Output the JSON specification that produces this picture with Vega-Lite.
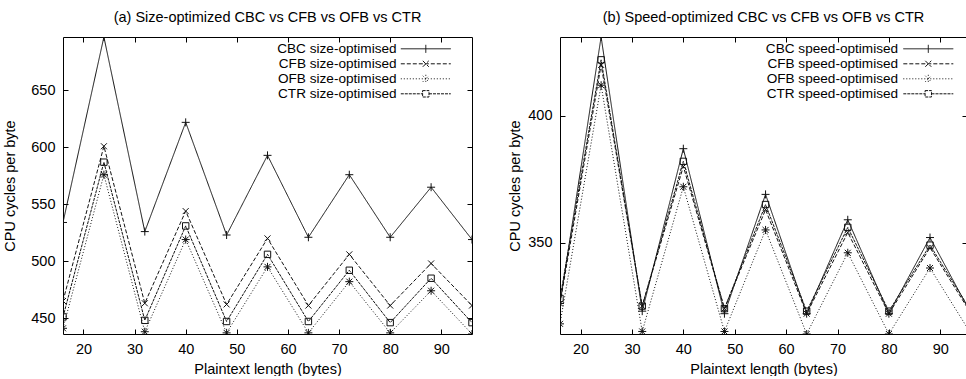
{
  "$schema": "https://vega.github.io/schema/vega-lite/v6.json",
  "padding": {"left": 2, "top": 10, "right": 0, "bottom": 0},
  "background": "white",
  "resolve": {"scale": {"strokeDash": "independent"}, "legend": {"strokeDash": "independent"}},
  "datasets": {
    "size": [
      {"len": 16, "series": "CBC size-optimised", "cycles": 534},
      {"len": 24, "series": "CBC size-optimised", "cycles": 697},
      {"len": 32, "series": "CBC size-optimised", "cycles": 526},
      {"len": 40, "series": "CBC size-optimised", "cycles": 622},
      {"len": 48, "series": "CBC size-optimised", "cycles": 523},
      {"len": 56, "series": "CBC size-optimised", "cycles": 593},
      {"len": 64, "series": "CBC size-optimised", "cycles": 521},
      {"len": 72, "series": "CBC size-optimised", "cycles": 576},
      {"len": 80, "series": "CBC size-optimised", "cycles": 521},
      {"len": 88, "series": "CBC size-optimised", "cycles": 565},
      {"len": 96, "series": "CBC size-optimised", "cycles": 519},
      {"len": 16, "series": "CFB size-optimised", "cycles": 465},
      {"len": 24, "series": "CFB size-optimised", "cycles": 601},
      {"len": 32, "series": "CFB size-optimised", "cycles": 463},
      {"len": 40, "series": "CFB size-optimised", "cycles": 544},
      {"len": 48, "series": "CFB size-optimised", "cycles": 462},
      {"len": 56, "series": "CFB size-optimised", "cycles": 520},
      {"len": 64, "series": "CFB size-optimised", "cycles": 461},
      {"len": 72, "series": "CFB size-optimised", "cycles": 506},
      {"len": 80, "series": "CFB size-optimised", "cycles": 461},
      {"len": 88, "series": "CFB size-optimised", "cycles": 498},
      {"len": 96, "series": "CFB size-optimised", "cycles": 461},
      {"len": 16, "series": "OFB size-optimised", "cycles": 441},
      {"len": 24, "series": "OFB size-optimised", "cycles": 576},
      {"len": 32, "series": "OFB size-optimised", "cycles": 438},
      {"len": 40, "series": "OFB size-optimised", "cycles": 519},
      {"len": 48, "series": "OFB size-optimised", "cycles": 437},
      {"len": 56, "series": "OFB size-optimised", "cycles": 495},
      {"len": 64, "series": "OFB size-optimised", "cycles": 437},
      {"len": 72, "series": "OFB size-optimised", "cycles": 482},
      {"len": 80, "series": "OFB size-optimised", "cycles": 437},
      {"len": 88, "series": "OFB size-optimised", "cycles": 474},
      {"len": 96, "series": "OFB size-optimised", "cycles": 436},
      {"len": 16, "series": "CTR size-optimised", "cycles": 451},
      {"len": 24, "series": "CTR size-optimised", "cycles": 587},
      {"len": 32, "series": "CTR size-optimised", "cycles": 448},
      {"len": 40, "series": "CTR size-optimised", "cycles": 531},
      {"len": 48, "series": "CTR size-optimised", "cycles": 447},
      {"len": 56, "series": "CTR size-optimised", "cycles": 506},
      {"len": 64, "series": "CTR size-optimised", "cycles": 447},
      {"len": 72, "series": "CTR size-optimised", "cycles": 492},
      {"len": 80, "series": "CTR size-optimised", "cycles": 446},
      {"len": 88, "series": "CTR size-optimised", "cycles": 485},
      {"len": 96, "series": "CTR size-optimised", "cycles": 446}
    ],
    "speed": [
      {"len": 16, "series": "CBC speed-optimised", "cycles": 326},
      {"len": 24, "series": "CBC speed-optimised", "cycles": 431},
      {"len": 32, "series": "CBC speed-optimised", "cycles": 323},
      {"len": 40, "series": "CBC speed-optimised", "cycles": 387},
      {"len": 48, "series": "CBC speed-optimised", "cycles": 322},
      {"len": 56, "series": "CBC speed-optimised", "cycles": 369},
      {"len": 64, "series": "CBC speed-optimised", "cycles": 322},
      {"len": 72, "series": "CBC speed-optimised", "cycles": 359},
      {"len": 80, "series": "CBC speed-optimised", "cycles": 322},
      {"len": 88, "series": "CBC speed-optimised", "cycles": 352},
      {"len": 96, "series": "CBC speed-optimised", "cycles": 322},
      {"len": 16, "series": "CFB speed-optimised", "cycles": 326},
      {"len": 24, "series": "CFB speed-optimised", "cycles": 420},
      {"len": 32, "series": "CFB speed-optimised", "cycles": 325},
      {"len": 40, "series": "CFB speed-optimised", "cycles": 380},
      {"len": 48, "series": "CFB speed-optimised", "cycles": 324},
      {"len": 56, "series": "CFB speed-optimised", "cycles": 363},
      {"len": 64, "series": "CFB speed-optimised", "cycles": 322},
      {"len": 72, "series": "CFB speed-optimised", "cycles": 354},
      {"len": 80, "series": "CFB speed-optimised", "cycles": 322},
      {"len": 88, "series": "CFB speed-optimised", "cycles": 348},
      {"len": 96, "series": "CFB speed-optimised", "cycles": 322},
      {"len": 16, "series": "OFB speed-optimised", "cycles": 318},
      {"len": 24, "series": "OFB speed-optimised", "cycles": 412},
      {"len": 32, "series": "OFB speed-optimised", "cycles": 315},
      {"len": 40, "series": "OFB speed-optimised", "cycles": 372},
      {"len": 48, "series": "OFB speed-optimised", "cycles": 315},
      {"len": 56, "series": "OFB speed-optimised", "cycles": 355},
      {"len": 64, "series": "OFB speed-optimised", "cycles": 314},
      {"len": 72, "series": "OFB speed-optimised", "cycles": 346},
      {"len": 80, "series": "OFB speed-optimised", "cycles": 314},
      {"len": 88, "series": "OFB speed-optimised", "cycles": 340},
      {"len": 96, "series": "OFB speed-optimised", "cycles": 314},
      {"len": 16, "series": "CTR speed-optimised", "cycles": 328},
      {"len": 24, "series": "CTR speed-optimised", "cycles": 422},
      {"len": 32, "series": "CTR speed-optimised", "cycles": 325},
      {"len": 40, "series": "CTR speed-optimised", "cycles": 382},
      {"len": 48, "series": "CTR speed-optimised", "cycles": 324},
      {"len": 56, "series": "CTR speed-optimised", "cycles": 365},
      {"len": 64, "series": "CTR speed-optimised", "cycles": 323},
      {"len": 72, "series": "CTR speed-optimised", "cycles": 356},
      {"len": 80, "series": "CTR speed-optimised", "cycles": 323},
      {"len": 88, "series": "CTR speed-optimised", "cycles": 349},
      {"len": 96, "series": "CTR speed-optimised", "cycles": 323}
    ]
  },
  "spacing": 34,
  "hconcat": [
    {
      "title": "(a) Size-optimized CBC vs CFB vs OFB vs CTR",
      "width": 409,
      "height": 297,
      "data": {"name": "size"},
      "resolve": {"axis": {"x": "independent", "y": "independent"}},
      "layer": [
        {
          "mark": {"type": "line", "color": "#111", "strokeWidth": 1, "clip": true},
          "encoding": {
            "x": {"field": "len", "type": "quantitative", "scale": {"domain": [16, 96], "nice": false, "zero": false},
                  "axis": {"orient": "bottom", "title": "Plaintext length (bytes)", "values": [20, 30, 40, 50, 60, 70, 80, 90]}},
            "y": {"field": "cycles", "type": "quantitative", "scale": {"domain": [436, 697], "nice": false, "zero": false},
                  "axis": {"orient": "left", "title": "CPU cycles per byte", "values": [450, 500, 550, 600, 650], "titlePadding": 13}},
            "strokeDash": {"field": "series", "type": "nominal",
              "scale": {"domain": ["CBC size-optimised", "CFB size-optimised", "OFB size-optimised", "CTR size-optimised"],
                        "range": [[1, 0], [4, 2], [1, 2], [3, 1]]},
              "legend": {"title": null, "orient": "none", "legendX": 356, "legendY": 5, "labelAlign": "right", "labelOffset": -36,
                "encode": {"symbols": {"update": {
                  "shape": {"signal": "slice(datum.value,0,3)=='CBC' ? 'M-6.25,0L6.25,0M0,-1L0,1' : slice(datum.value,0,3)=='CFB' ? 'M-6.25,0L6.25,0M-0.75,-0.75L0.75,0.75M-0.75,0.75L0.75,-0.75' : slice(datum.value,0,3)=='OFB' ? 'M-6.25,0L6.25,0M0,-1L0,1M-0.75,-0.75L0.75,0.75M-0.75,0.75L0.75,-0.75' : 'M-6.25,0L-0.8,0M0.8,0L6.25,0M-0.8,-0.8L0.8,-0.8L0.8,0.8L-0.8,0.8Z'"},
                  "fill": {"value": "transparent"},
                  "stroke": {"value": "#111"},
                  "strokeWidth": {"value": 1},
                  "size": {"value": 64}
                }}}}
            }
          }
        },
        {
          "transform": [{"filter": "datum.series == 'CBC size-optimised'"}],
          "mark": {"type": "point", "shape": "M-1,0L1,0M0,-1L0,1", "filled": false, "size": 64, "color": "#111", "strokeWidth": 1, "opacity": 1, "clip": true},
          "encoding": {
            "x": {"field": "len", "type": "quantitative",
                  "axis": {"orient": "top", "title": null, "labels": false, "values": [20, 30, 40, 50, 60, 70, 80, 90]}},
            "y": {"field": "cycles", "type": "quantitative",
                  "axis": {"orient": "right", "title": null, "labels": false, "values": [450, 500, 550, 600, 650]}}
          }
        },
        {
          "transform": [{"filter": "datum.series == 'CFB size-optimised'"}],
          "mark": {"type": "point", "shape": "M-0.75,-0.75L0.75,0.75M-0.75,0.75L0.75,-0.75", "filled": false, "size": 64, "color": "#111", "strokeWidth": 1, "opacity": 1, "clip": true},
          "encoding": {
            "x": {"field": "len", "type": "quantitative", "axis": null},
            "y": {"field": "cycles", "type": "quantitative", "axis": null}
          }
        },
        {
          "transform": [{"filter": "datum.series == 'OFB size-optimised'"}],
          "mark": {"type": "point", "shape": "M-1,0L1,0M0,-1L0,1M-0.75,-0.75L0.75,0.75M-0.75,0.75L0.75,-0.75", "filled": false, "size": 64, "color": "#111", "strokeWidth": 1, "opacity": 1, "clip": true},
          "encoding": {
            "x": {"field": "len", "type": "quantitative", "axis": null},
            "y": {"field": "cycles", "type": "quantitative", "axis": null}
          }
        },
        {
          "transform": [{"filter": "datum.series == 'CTR size-optimised'"}],
          "mark": {"type": "point", "shape": "M-0.8,-0.8L0.8,-0.8L0.8,0.8L-0.8,0.8Z", "filled": false, "size": 64, "color": "#111", "strokeWidth": 1, "opacity": 1, "clip": true},
          "encoding": {
            "x": {"field": "len", "type": "quantitative", "axis": null},
            "y": {"field": "cycles", "type": "quantitative", "axis": null}
          }
        }
      ]
    },
    {
      "title": "(b) Speed-optimized CBC vs CFB vs OFB vs CTR",
      "width": 407,
      "height": 297,
      "data": {"name": "speed"},
      "resolve": {"axis": {"x": "independent", "y": "independent"}},
      "layer": [
        {
          "mark": {"type": "line", "color": "#111", "strokeWidth": 1, "clip": true},
          "encoding": {
            "x": {"field": "len", "type": "quantitative", "scale": {"domain": [16, 95.2], "nice": false, "zero": false},
                  "axis": {"orient": "bottom", "title": "Plaintext length (bytes)", "values": [20, 30, 40, 50, 60, 70, 80, 90]}},
            "y": {"field": "cycles", "type": "quantitative", "scale": {"domain": [314, 431], "nice": false, "zero": false},
                  "axis": {"orient": "left", "title": "CPU cycles per byte", "values": [350, 400], "titlePadding": 5}},
            "strokeDash": {"field": "series", "type": "nominal",
              "scale": {"domain": ["CBC speed-optimised", "CFB speed-optimised", "OFB speed-optimised", "CTR speed-optimised"],
                        "range": [[1, 0], [4, 2], [1, 2], [3, 1]]},
              "legend": {"title": null, "orient": "none", "legendX": 361.5, "legendY": 5, "labelAlign": "right", "labelOffset": -37,
                "encode": {"symbols": {"update": {
                  "shape": {"signal": "slice(datum.value,0,3)=='CBC' ? 'M-6.25,0L6.25,0M0,-1L0,1' : slice(datum.value,0,3)=='CFB' ? 'M-6.25,0L6.25,0M-0.75,-0.75L0.75,0.75M-0.75,0.75L0.75,-0.75' : slice(datum.value,0,3)=='OFB' ? 'M-6.25,0L6.25,0M0,-1L0,1M-0.75,-0.75L0.75,0.75M-0.75,0.75L0.75,-0.75' : 'M-6.25,0L-0.8,0M0.8,0L6.25,0M-0.8,-0.8L0.8,-0.8L0.8,0.8L-0.8,0.8Z'"},
                  "fill": {"value": "transparent"},
                  "stroke": {"value": "#111"},
                  "strokeWidth": {"value": 1},
                  "size": {"value": 64}
                }}}}
            }
          }
        },
        {
          "transform": [{"filter": "datum.series == 'CBC speed-optimised'"}],
          "mark": {"type": "point", "shape": "M-1,0L1,0M0,-1L0,1", "filled": false, "size": 64, "color": "#111", "strokeWidth": 1, "opacity": 1, "clip": true},
          "encoding": {
            "x": {"field": "len", "type": "quantitative",
                  "axis": {"orient": "top", "title": null, "labels": false, "values": [20, 30, 40, 50, 60, 70, 80, 90]}},
            "y": {"field": "cycles", "type": "quantitative",
                  "axis": {"orient": "right", "title": null, "labels": false, "domain": false, "values": [350, 400]}}
          }
        },
        {
          "transform": [{"filter": "datum.series == 'CFB speed-optimised'"}],
          "mark": {"type": "point", "shape": "M-0.75,-0.75L0.75,0.75M-0.75,0.75L0.75,-0.75", "filled": false, "size": 64, "color": "#111", "strokeWidth": 1, "opacity": 1, "clip": true},
          "encoding": {
            "x": {"field": "len", "type": "quantitative", "axis": null},
            "y": {"field": "cycles", "type": "quantitative", "axis": null}
          }
        },
        {
          "transform": [{"filter": "datum.series == 'OFB speed-optimised'"}],
          "mark": {"type": "point", "shape": "M-1,0L1,0M0,-1L0,1M-0.75,-0.75L0.75,0.75M-0.75,0.75L0.75,-0.75", "filled": false, "size": 64, "color": "#111", "strokeWidth": 1, "opacity": 1, "clip": true},
          "encoding": {
            "x": {"field": "len", "type": "quantitative", "axis": null},
            "y": {"field": "cycles", "type": "quantitative", "axis": null}
          }
        },
        {
          "transform": [{"filter": "datum.series == 'CTR speed-optimised'"}],
          "mark": {"type": "point", "shape": "M-0.8,-0.8L0.8,-0.8L0.8,0.8L-0.8,0.8Z", "filled": false, "size": 64, "color": "#111", "strokeWidth": 1, "opacity": 1, "clip": true},
          "encoding": {
            "x": {"field": "len", "type": "quantitative", "axis": null},
            "y": {"field": "cycles", "type": "quantitative", "axis": null}
          }
        }
      ]
    }
  ],
  "config": {
    "view": {"stroke": null},
    "font": "Liberation Sans",
    "title": {"font": "Liberation Sans", "fontSize": 14.5, "fontWeight": "normal", "color": "#000", "offset": 11},
    "axis": {
      "grid": false, "domainColor": "#000", "domainWidth": 1, "tickColor": "#000", "tickWidth": 1, "tickSize": -5,
      "labelFont": "Liberation Sans", "labelFontSize": 14.5, "labelColor": "#000", "labelPadding": 13,
      "titleFont": "Liberation Sans", "titleFontSize": 14.5, "titleFontWeight": "normal", "titleColor": "#000", "titlePadding": 7
    },
    "legend": {
      "labelFont": "Liberation Sans", "labelFontSize": 13.6, "labelColor": "#000", "padding": 0, "rowPadding": 0,
      "symbolSize": 64, "symbolStrokeColor": "#111"
    }
  }
}
